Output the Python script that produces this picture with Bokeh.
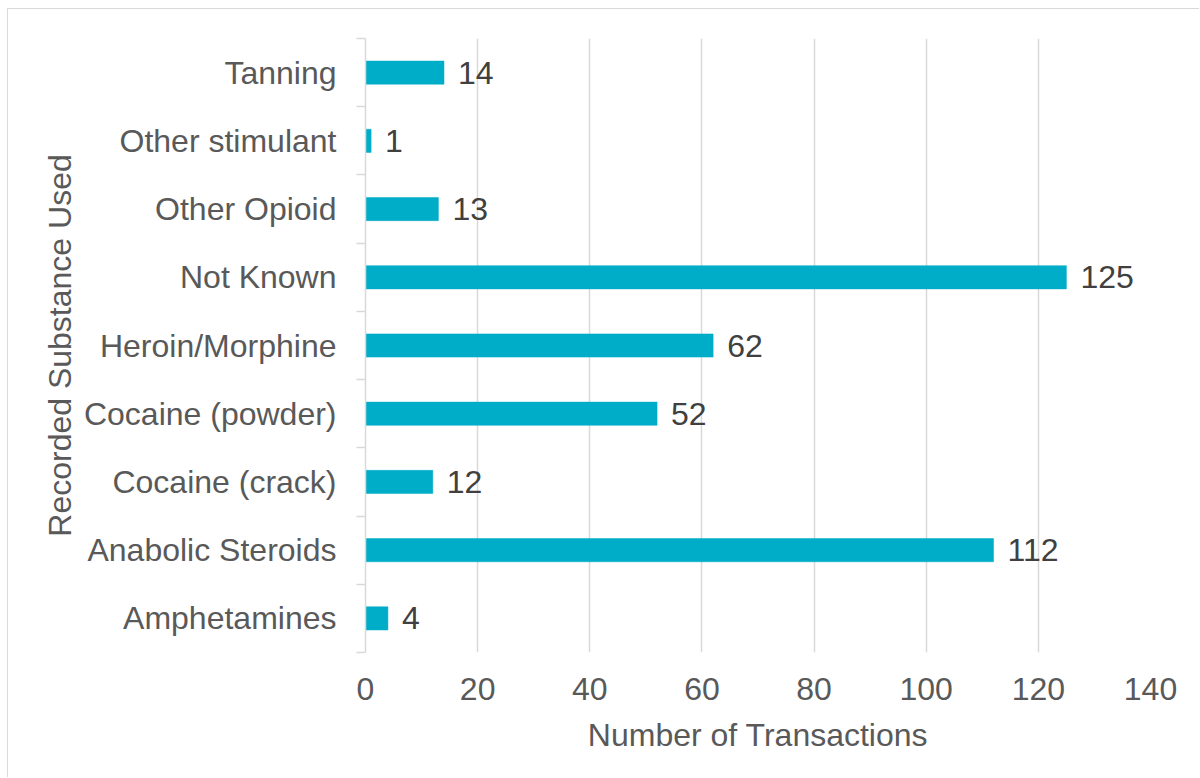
from bokeh.plotting import figure
from bokeh.models import Range1d, FixedTicker, ColumnDataSource
from bokeh.core.properties import value
from bokeh.embed import file_html
from bokeh.resources import INLINE

categories = ["Amphetamines", "Anabolic Steroids", "Cocaine (crack)", "Cocaine (powder)",
              "Heroin/Morphine", "Not Known", "Other Opioid", "Other stimulant", "Tanning"]
transactions = [4, 112, 12, 52, 62, 125, 13, 1, 14]
x_ticks = [0, 20, 40, 60, 80, 100, 120, 140]

FONT = "Liberation Sans"
GRAY = "#595959"
LINE = "#d9d9d9"
FS = "32px"

n = len(categories)
centers = [2 * i + 1 for i in range(n)]
bounds = [2 * i for i in range(n + 1)]

src = ColumnDataSource(dict(cat=categories, val=transactions, y=centers,
                            lab=[str(v) for v in transactions]))

p = figure(width=1192, height=769, output_backend="svg", toolbar_location=None,
           x_range=Range1d(0, 140), y_range=Range1d(0, 2 * n),
           min_border_left=357, min_border_right=50, min_border_top=29, min_border_bottom=126,
           styles={"margin-left": "7px", "margin-top": "8px",
                   "border-left": "1px solid #d9d9d9", "border-top": "1px solid #d9d9d9"})

p.outline_line_color = None
p.background_fill_color = "white"
p.border_fill_color = "white"

p.hbar(y="y", right="val", left=0, height=0.68, fill_color="#00ADC8",
       line_color="#00ADC8", line_width=0.5, source=src)

p.text(x="val", y="y", text="lab", source=src, x_offset=14, text_baseline="middle",
       text_align="left", text_font=value(FONT), text_font_size=FS, text_color="#404040")

# y axis
ya = p.yaxis[0]
ya.ticker = FixedTicker(ticks=centers, minor_ticks=bounds)
ya.major_label_overrides = {c: lab for c, lab in zip(centers, categories)}
ya.major_tick_out = 0
ya.major_tick_in = 0
ya.minor_tick_out = 9
ya.minor_tick_in = 0
ya.minor_tick_line_color = LINE
ya.minor_tick_line_width = 1.5
ya.axis_line_color = LINE
ya.axis_line_width = 1.5
ya.major_label_standoff = 20
ya.major_label_text_font = FONT
ya.major_label_text_font_size = FS
ya.major_label_text_color = GRAY
ya.axis_label = "Recorded Substance Used"
ya.axis_label_text_font = FONT
ya.axis_label_text_font_size = FS
ya.axis_label_text_font_style = "normal"
ya.axis_label_text_color = GRAY
ya.axis_label_standoff = 3

# x axis
xa = p.xaxis[0]
xa.ticker = FixedTicker(ticks=x_ticks)
xa.axis_line_color = None
xa.major_tick_line_color = None
xa.minor_tick_line_color = None
xa.major_label_standoff = 19
xa.major_label_text_font = FONT
xa.major_label_text_font_size = FS
xa.major_label_text_color = GRAY
xa.axis_label = "Number of Transactions"
xa.axis_label_text_font = FONT
xa.axis_label_text_font_size = FS
xa.axis_label_text_font_style = "normal"
xa.axis_label_text_color = GRAY
xa.axis_label_standoff = 14

p.ygrid.grid_line_color = None
p.xgrid.ticker = FixedTicker(ticks=x_ticks)
p.xgrid.grid_line_color = LINE
p.xgrid.grid_line_width = 1.5

open("out.html", "w").write(file_html(p, INLINE))
